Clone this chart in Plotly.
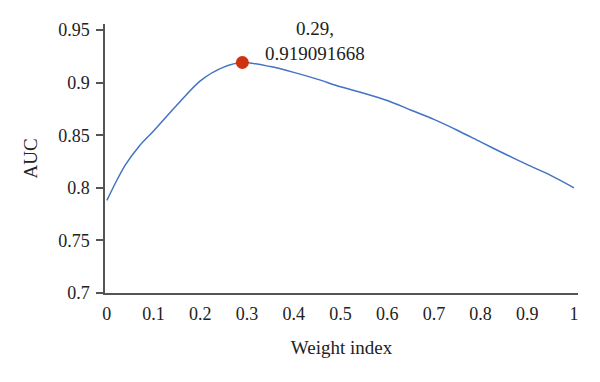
import plotly.graph_objects as go

weight = [0, 0.02, 0.04, 0.07, 0.1, 0.15, 0.2, 0.25, 0.29, 0.35, 0.4, 0.45, 0.5,
          0.55, 0.6, 0.65, 0.7, 0.75, 0.8, 0.85, 0.9, 0.95, 1.0]
auc = [0.788, 0.806, 0.822, 0.840, 0.854, 0.8787, 0.9017, 0.9147, 0.919091668,
       0.9152, 0.9097, 0.9033, 0.896, 0.8899, 0.883, 0.874, 0.865, 0.8547,
       0.8436, 0.8326, 0.822, 0.8118, 0.800]
best_x = [0.29]
best_y = [0.919091668]
xticks = [0, 0.1, 0.2, 0.3, 0.4, 0.5, 0.6, 0.7, 0.8, 0.9, 1]
xticklabels = ["0", "0.1", "0.2", "0.3", "0.4", "0.5", "0.6", "0.7", "0.8", "0.9", "1"]
yticks = [0.7, 0.75, 0.8, 0.85, 0.9, 0.95]
yticklabels = ["0.7", "0.75", "0.8", "0.85", "0.9", "0.95"]

font = "Liberation Serif"
fig = go.Figure()
fig.add_trace(go.Scatter(x=weight, y=auc, mode="lines", line=dict(color="#4472C4", width=1.5, shape="spline", smoothing=0.8),
                         hoverinfo="skip", showlegend=False))
fig.add_trace(go.Scatter(x=best_x, y=best_y, mode="markers", marker=dict(color="#CC3311", size=13),
                         showlegend=False))
fig.add_annotation(x=best_x[0], y=best_y[0], text=f"{best_x[0]},<br>{best_y[0]}", showarrow=False,
                   xshift=73, yshift=22, font=dict(family=font, size=19, color="#222"), align="center")

fig.update_layout(
    width=600, height=382,
    margin=dict(l=97, r=30, t=16, b=97),
    plot_bgcolor="white", paper_bgcolor="white",
    font=dict(family=font, size=18, color="#222"),
    xaxis=dict(range=[-0.004, 1.0085], tickvals=xticks, ticktext=xticklabels, showgrid=False, zeroline=False,
               showline=True, linecolor="#555", linewidth=1.5, ticks="", ticklabelstandoff=4,
               title=dict(text="Weight index", standoff=17, font=dict(size=19))),
    yaxis=dict(range=[0.7, 0.9557], tickvals=yticks, ticktext=yticklabels, showgrid=False, zeroline=False,
               showline=True, linecolor="#555", linewidth=1.5, ticks="outside", ticklen=7, tickcolor="#555",
               tickwidth=1.5, ticklabelstandoff=3,
               title=dict(text="AUC", standoff=16, font=dict(size=19))),
)
fig.write_html("out.html")
